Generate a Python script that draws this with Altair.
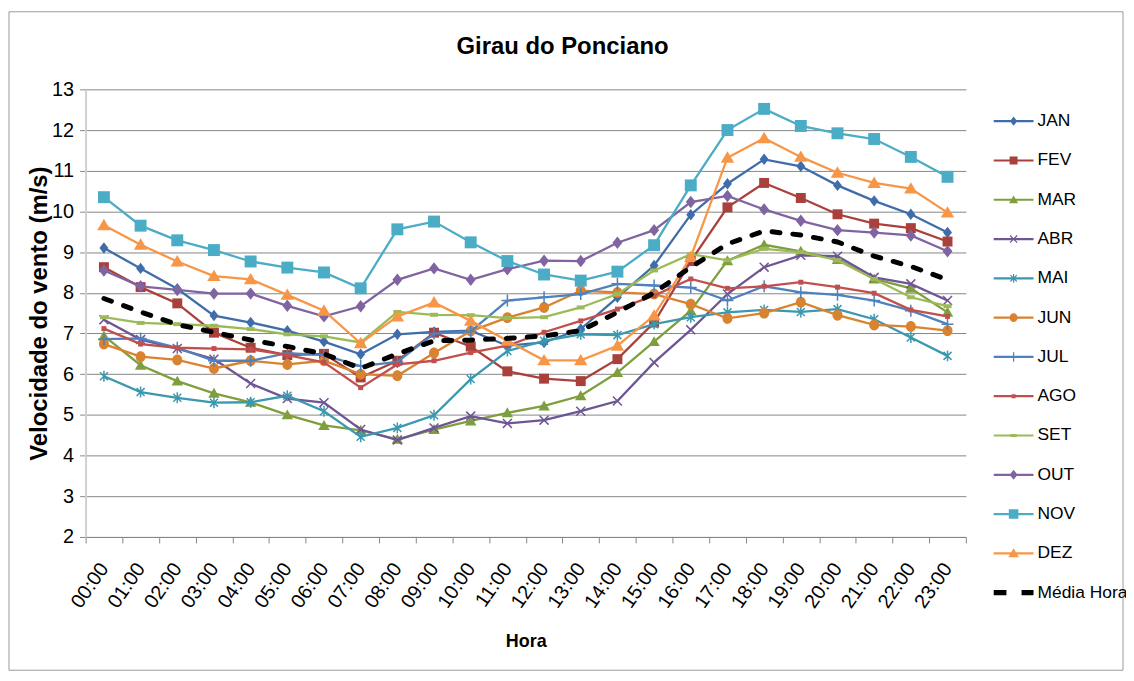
import json
import altair as alt
import pandas as pd

# ---------------- data ----------------
HOURS = ["00:00", "01:00", "02:00", "03:00", "04:00", "05:00", "06:00", "07:00",
         "08:00", "09:00", "10:00", "11:00", "12:00", "13:00", "14:00", "15:00",
         "16:00", "17:00", "18:00", "19:00", "20:00", "21:00", "22:00", "23:00"]

SERIES = ["JAN", "FEV", "MAR", "ABR", "MAI", "JUN", "JUL", "AGO", "SET", "OUT", "NOV", "DEZ"]
MEAN_NAME = "Média Hora"

JAN = [9.10, 8.60, 8.10, 7.44, 7.27, 7.07, 6.80, 6.49, 6.98, 7.04, 7.07, 6.70,
       6.78, 7.11, 7.89, 8.67, 9.92, 10.68, 11.28, 11.11, 10.64, 10.26, 9.93, 9.48]
FEV = [8.63, 8.14, 7.74, 7.02, 6.65, 6.47, 6.50, 5.92, 6.33, 7.02, 6.68, 6.07,
       5.89, 5.83, 6.37, 7.27, 8.78, 10.10, 10.70, 10.33, 9.93, 9.70, 9.59, 9.26]
MAR = [6.94, 6.22, 5.83, 5.53, 5.31, 5.00, 4.74, 4.62, 4.40, 4.64, 4.85, 5.05,
       5.22, 5.47, 6.04, 6.80, 7.56, 8.79, 9.18, 9.02, 8.82, 8.34, 8.11, 7.52]
ABR = [7.34, 6.85, 6.63, 6.37, 5.77, 5.40, 5.30, 4.64, 4.38, 4.68, 4.97, 4.79,
       4.87, 5.09, 5.34, 6.29, 7.09, 7.97, 8.63, 8.92, 8.90, 8.38, 8.22, 7.81]
MAI = [5.95, 5.56, 5.42, 5.30, 5.31, 5.47, 5.09, 4.46, 4.68, 4.99, 5.88, 6.57,
       6.82, 6.98, 6.96, 7.23, 7.40, 7.52, 7.58, 7.53, 7.60, 7.35, 6.90, 6.45]
JUN = [6.74, 6.43, 6.35, 6.14, 6.33, 6.24, 6.33, 6.00, 5.96, 6.52, 7.06, 7.39,
       7.64, 8.05, 8.01, 7.97, 7.72, 7.37, 7.50, 7.77, 7.45, 7.21, 7.17, 7.07]
JUL = [6.86, 6.88, 6.65, 6.33, 6.33, 6.52, 6.47, 6.20, 6.30, 7.00, 7.05, 7.81,
       7.89, 7.97, 8.22, 8.18, 8.13, 7.81, 8.16, 8.01, 7.95, 7.81, 7.56, 7.23]
AGO = [7.12, 6.74, 6.65, 6.63, 6.61, 6.47, 6.29, 5.67, 6.24, 6.33, 6.53, 6.70,
       7.03, 7.31, 7.60, 7.93, 8.34, 8.11, 8.16, 8.26, 8.14, 7.99, 7.58, 7.42]
SET = [7.40, 7.26, 7.23, 7.19, 7.11, 6.98, 6.93, 6.78, 7.53, 7.46, 7.45, 7.38,
       7.40, 7.64, 7.97, 8.55, 8.95, 8.80, 9.08, 9.00, 8.80, 8.34, 7.89, 7.67]
OUT = [8.55, 8.16, 8.07, 7.98, 7.98, 7.68, 7.42, 7.67, 8.32, 8.60, 8.32, 8.58,
       8.79, 8.78, 9.23, 9.54, 10.23, 10.38, 10.05, 9.77, 9.54, 9.48, 9.41, 9.02]
NOV = [10.35, 9.65, 9.29, 9.05, 8.77, 8.62, 8.50, 8.11, 9.56, 9.75, 9.24, 8.78,
       8.45, 8.30, 8.52, 9.17, 10.64, 12.00, 12.52, 12.10, 11.92, 11.78, 11.34, 10.85]
DEZ = [9.66, 9.18, 8.77, 8.41, 8.33, 7.95, 7.56, 6.76, 7.42, 7.76, 7.31, 6.82,
       6.34, 6.34, 6.70, 7.44, 8.88, 11.32, 11.80, 11.34, 10.95, 10.70, 10.56, 9.97]
MEDIA = [7.86, 7.53, 7.22, 7.03, 6.84, 6.68, 6.50, 6.14, 6.50, 6.82, 6.84, 6.88,
         6.94, 7.07, 7.52, 8.00, 8.63, 9.20, 9.52, 9.42, 9.25, 8.90, 8.65, 8.32]

VALUES = [JAN, FEV, MAR, ABR, MAI, JUN, JUL, AGO, SET, OUT, NOV, DEZ]

COLORS = ["#3F6DAA", "#AA403C", "#7F9F3F", "#6E5594", "#3A98B0", "#D9822F",
          "#4F81BD", "#C0504D", "#9BBB59", "#8064A2", "#4BACC6", "#F79646"]
MARKERS = ["diamond", "square", "triangle", "x", "asterisk", "circle",
           "plus", "smallsquare", "dash", "diamond2", "bigsquare", "bigtriangle"]

rows = []
for name, vals in zip(SERIES + [MEAN_NAME], VALUES + [MEDIA]):
    for i, v in enumerate(vals):
        rows.append({"h": i, "s": name, "v": v})
df = pd.DataFrame(rows)

# ---------------- symbol paths ----------------
def fmt(x):
    return f"{round(x, 3):g}"

def poly(pts):
    area = 0
    for i in range(len(pts)):
        x1, y1 = pts[i]
        x2, y2 = pts[(i + 1) % len(pts)]
        area += x1 * y2 - x2 * y1
    if area < 0:
        pts = pts[::-1]
    return "M" + "L".join(f"{fmt(x)},{fmt(y)}" for x, y in pts) + "Z"

def rect(x0, y0, x1, y1):
    return poly([(x0, y0), (x1, y0), (x1, y1), (x0, y1)])

def seg(x1, y1, x2, y2, t):
    dx, dy = x2 - x1, y2 - y1
    ln = (dx * dx + dy * dy) ** 0.5
    nx, ny = -dy / ln * t / 2, dx / ln * t / 2
    return poly([(x1 + nx, y1 + ny), (x2 + nx, y2 + ny), (x2 - nx, y2 - ny), (x1 - nx, y1 - ny)])

def ellipse(rx, ry):
    return (f"M{fmt(-rx)},0A{fmt(rx)},{fmt(ry)} 0 1,1 {fmt(rx)},0"
            f"A{fmt(rx)},{fmt(ry)} 0 1,1 {fmt(-rx)},0Z")

def marker(kind, k, t):
    if kind == "diamond":
        return poly([(0, -1.15 * k), (0.9 * k, 0), (0, 1.15 * k), (-0.9 * k, 0)])
    if kind == "diamond2":
        return poly([(0, -1.25 * k), (1.0 * k, 0), (0, 1.25 * k), (-1.0 * k, 0)])
    if kind == "square":
        return rect(-1.0 * k, -1.0 * k, 1.0 * k, 1.0 * k)
    if kind == "bigsquare":
        return rect(-1.2 * k, -1.2 * k, 1.2 * k, 1.2 * k)
    if kind == "smallsquare":
        return rect(-0.5 * k, -0.5 * k, 0.5 * k, 0.5 * k)
    if kind == "dash":
        return rect(-0.8 * k, -0.4 * k, 0.8 * k, 0.4 * k)
    if kind == "triangle":
        return poly([(0, -1.1 * k), (1.15 * k, 0.9 * k), (-1.15 * k, 0.9 * k)])
    if kind == "bigtriangle":
        return poly([(0, -1.3 * k), (1.35 * k, 1.0 * k), (-1.35 * k, 1.0 * k)])
    if kind == "x":
        a = 0.9 * k
        return seg(-a, -a, a, a, t) + seg(-a, a, a, -a, t)
    if kind == "asterisk":
        a = 0.8 * k
        return seg(-a, -a, a, a, t) + seg(-a, a, a, -a, t) + seg(0, -1.1 * k, 0, 1.1 * k, t)
    if kind == "plus":
        a = 1.2 * k
        return seg(-a, 0, a, 0, t) + seg(0, -a, 0, a, t)
    if kind == "circle":
        return ellipse(1.0 * k, 1.1 * k)
    return ""

CHART_SHAPES = [marker(m, 1.0, 0.3) for m in MARKERS]
LEGEND_LINE = rect(-1, -0.055, 1, 0.055)
LEGEND_SHAPES = [LEGEND_LINE + marker(m, 0.2, 0.06) for m in MARKERS]
LEGEND_SHAPES.append(rect(-1, -0.13, -0.36, 0.13) + rect(0.4, -0.13, 1, 0.13))

# ---------------- encodings ----------------
FONT = "Liberation Sans, Arial, sans-serif"
BOUNDS = [i - 0.5 for i in range(len(HOURS) + 1)]
label_expr = f"{json.dumps(HOURS)}[round(datum.value + 0.5)] || ''"

X = alt.X("h:Q",
          scale=alt.Scale(domain=[-0.5, len(HOURS) - 0.5], nice=False, zero=False),
          axis=alt.Axis(values=BOUNDS, labelExpr=label_expr, grid=False,
                        labelAngle=-55, labelAlign="right", labelBaseline="middle",
                        labelOffset=18.4, labelPadding=22, labelOverlap=False,
                        labelFlush=False, labelBound=False,
                        labelFont=FONT, labelFontSize=20, labelColor="black",
                        tickSize=6, tickColor="#868686", domainColor="#868686",
                        title="Hora", titleFont=FONT, titleFontSize=18,
                        titleFontWeight="bold", titleColor="black", titlePadding=21))
Y = alt.Y("v:Q",
          scale=alt.Scale(domain=[2, 13], nice=False, zero=False),
          axis=alt.Axis(values=list(range(2, 14)), grid=True, gridColor="#868686",
                        gridWidth=1, tickSize=6, tickColor="#868686",
                        domainColor="#D0D0D0", domainWidth=2,
                        labelFont=FONT, labelFontSize=20, labelColor="black",
                        labelPadding=6,
                        title="Velocidade do vento (m/s)", titleFont=FONT,
                        titleFontSize=24, titleFontWeight="bold", titleColor="black",
                        titlePadding=0))

base = alt.Chart(df)
layers = []

frame = base.mark_rect(fill="transparent", stroke="#9A9A9A", strokeWidth=1, clip=False).encode(
    x=alt.value(-77), x2=alt.value(1043), y=alt.value(-78), y2=alt.value(584)
).transform_filter("datum.h == 0 && datum.s == 'JAN'")
layers.append(frame)

for name, col, shp in zip(SERIES, COLORS, CHART_SHAPES):
    sub = base.transform_filter(alt.datum.s == name)
    layers.append(sub.mark_line(color=col, strokeWidth=2.3).encode(x=X, y=Y))
    layers.append(sub.mark_point(shape=shp, filled=True, size=100, color=col,
                                 opacity=1, strokeWidth=0).encode(x=X, y=Y))

layers.append(base.transform_filter(alt.datum.s == MEAN_NAME).mark_line(
    color="black", strokeWidth=5, strokeDash=[8, 13], strokeCap="round").encode(x=X, y=Y))

DOMAIN = SERIES + [MEAN_NAME]
legend = alt.Legend(title=None, orient="none", legendX=913, legendY=12,
                    labelFont=FONT, labelFontSize=17.5, labelColor="black",
                    symbolSize=1600, symbolStrokeWidth=0, symbolOpacity=1,
                    rowPadding=10.5, labelOffset=4, padding=0)
legend_layer = base.transform_filter("false").mark_point(filled=True, opacity=1).encode(
    x=X, y=Y,
    color=alt.Color("s:N", scale=alt.Scale(domain=DOMAIN, range=COLORS + ["black"]),
                    legend=legend),
    shape=alt.Shape("s:N", scale=alt.Scale(domain=DOMAIN, range=LEGEND_SHAPES),
                    legend=legend),
)
layers.append(legend_layer)

chart = alt.layer(*layers).properties(
    width=885, height=450,
    autosize=alt.AutoSizeParams(type="none"),
    padding={"left": 78, "top": 80, "right": 161, "bottom": 137},
    background="white",
    title=alt.TitleParams("Girau do Ponciano", font=FONT, fontSize=24,
                          fontWeight="bold", color="black", anchor="middle",
                          dx=37, offset=-48),
).configure_view(stroke=None)

chart.save("out.html", embed_options={"renderer": "svg", "actions": False})
